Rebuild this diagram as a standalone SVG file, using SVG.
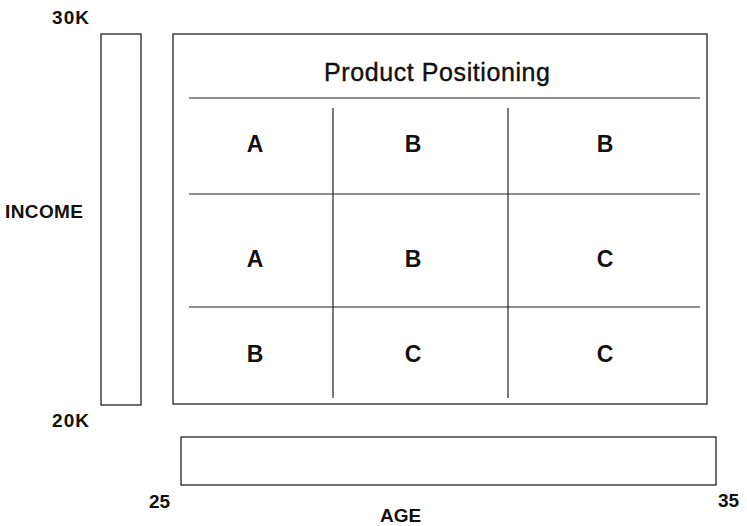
<svg xmlns="http://www.w3.org/2000/svg" width="747" height="526" viewBox="0 0 747 526">
  <style>
    .box { fill: none; stroke: #222; stroke-width: 1.3; }
    .rule { stroke: #222; stroke-width: 1.2; }
    .lbl { font-family: "Liberation Sans", Arial, sans-serif; font-weight: bold; font-size: 19px; fill: #111; }
    .cell { font-family: "Liberation Sans", Arial, sans-serif; font-weight: bold; font-size: 23px; fill: #111; text-anchor: middle; }
    .title { font-family: "Liberation Sans", Arial, sans-serif; font-size: 25px; fill: #111; stroke: #111; stroke-width: 0.4; text-anchor: middle; }
  </style>
  <rect width="747" height="526" fill="#fff"/>

  <!-- income axis bar -->
  <g id="income-axis">
    <rect class="box" x="101" y="34" width="40" height="371"/>
    <text class="lbl" x="52" y="24" textLength="37">30K</text>
    <text class="lbl" x="5" y="218" textLength="78">INCOME</text>
    <text class="lbl" x="52" y="427" textLength="37">20K</text>
  </g>

  <!-- age axis bar -->
  <g id="age-axis">
    <rect class="box" x="181" y="437" width="535" height="48"/>
    <text class="lbl" x="149" y="508">25</text>
    <text class="lbl" x="718" y="507">35</text>
    <text class="lbl" x="380" y="522">AGE</text>
  </g>

  <!-- positioning grid -->
  <g id="grid">
    <rect class="box" x="173" y="34" width="534" height="370"/>
    <text class="title" x="437" y="81" textLength="226">Product Positioning</text>
    <line class="rule" x1="189" y1="98" x2="700" y2="98"/>
    <line class="rule" x1="189" y1="194" x2="700" y2="194"/>
    <line class="rule" x1="189" y1="307" x2="700" y2="307"/>
    <line class="rule" x1="333" y1="108" x2="333" y2="398"/>
    <line class="rule" x1="508" y1="108" x2="508" y2="398"/>
  </g>

  <g id="cells">
    <text class="cell" x="255" y="152">A</text>
    <text class="cell" x="413" y="152">B</text>
    <text class="cell" x="605" y="152">B</text>
    <text class="cell" x="255" y="267">A</text>
    <text class="cell" x="413" y="267">B</text>
    <text class="cell" x="605" y="267">C</text>
    <text class="cell" x="255" y="362">B</text>
    <text class="cell" x="413" y="362">C</text>
    <text class="cell" x="605" y="362">C</text>
  </g>
</svg>
